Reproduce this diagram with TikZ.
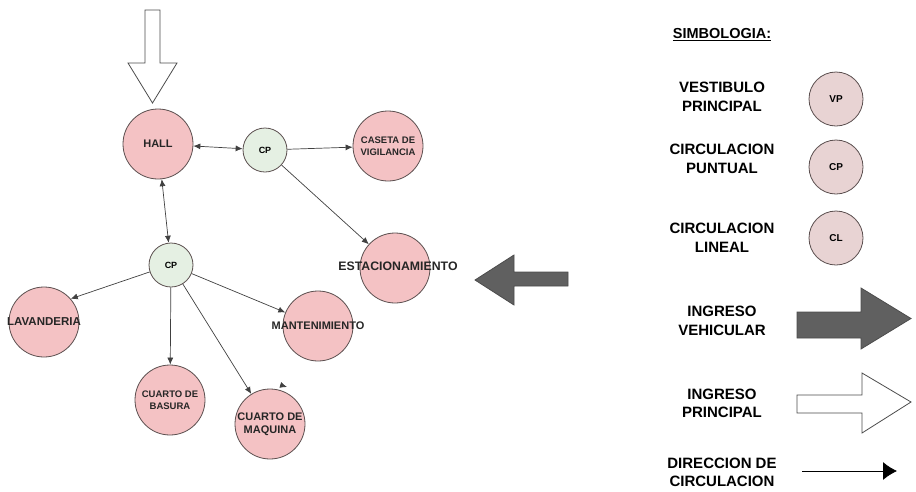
\documentclass[tikz,border=0pt]{standalone}
\usepackage{fontspec}
\setmainfont{Liberation Sans}
\usetikzlibrary{arrows.meta}
\definecolor{roompink}{HTML}{F4C2C4}
\definecolor{cpgreen}{HTML}{E5F0E3}
\definecolor{keymauve}{HTML}{E8D3D3}
\definecolor{rimgray}{HTML}{5A4E4E}
\definecolor{cardark}{HTML}{606060}

\begin{document}
\begin{tikzpicture}[
  x=1pt, y=-1pt,
  room/.style={circle, draw=rimgray, line width=0.8pt, fill=roompink, minimum size=70pt, inner sep=0pt},
  hub/.style={room, fill=cpgreen, minimum size=44pt, font=\fontsize{9}{10}\selectfont\bfseries},
  tag/.style={align=center, font=\fontsize{11}{13}\selectfont\bfseries, text=black!85},
  tagsmall/.style={tag, font=\fontsize{9.5}{12}\selectfont\bfseries},
  link/.style={draw=black!75, line width=0.7pt, -{Latex[length=7pt,width=6pt]}},
  both/.style={link, {Latex[length=7pt,width=6pt]}-{Latex[length=7pt,width=6pt]}},
  key/.style={align=center, font=\fontsize{15}{18.5}\selectfont\bfseries},
  keyring/.style={circle, draw=rimgray, line width=0.8pt, fill=keymauve, minimum size=54pt, inner sep=0pt, font=\fontsize{10}{11}\selectfont\bfseries},
  block/.style={draw=black!70, line width=0.8pt, line join=miter}
]
  \useasboundingbox (0,0) rectangle (916,491);

  % ingreso principal
  \draw[block, fill=white] (145,10) -- (160,10) -- (160,63) -- (177,63) -- (152.5,103) -- (128,63) -- (145,63) -- cycle;
  % ingreso vehicular
  \draw[block, fill=cardark] (568,272) -- (514,272) -- (514,255) -- (475,280) -- (514,305) -- (514,286) -- (568,286) -- cycle;

  \node[room, label={[tag]center:HALL}] (hall) at (158,144) {};
  \node[hub] (cpa) at (265,150) {CP};
  \node[room, label={[tagsmall]center:CASETA DE\\VIGILANCIA}] (caseta) at (388,146) {};
  \node[room, label={[tag, font=\fontsize{12.3}{14}\selectfont\bfseries, xshift=3pt, yshift=2pt]center:ESTACIONAMIENTO}] (estac) at (395,268) {};
  \node[hub] (cpb) at (171,265) {CP};
  \node[room, label={[tag, font=\fontsize{11.5}{13}\selectfont\bfseries]center:LAVANDERIA}] (lav) at (44,322) {};
  \node[room, label={[tagsmall]center:CUARTO DE\\BASURA}] (basura) at (170,400) {};
  \node[room, label={[tag]center:CUARTO DE\\MAQUINA}] (maquina) at (270,424) {};
  \node[room, label={[tag]center:MANTENIMIENTO}] (mant) at (318,326) {};

  \draw[both] (hall) -- (cpa);
  \draw[both] (hall) -- (cpb);
  \draw[link] (cpa) -- (caseta);
  \draw[link] (cpa) -- (estac);
  \draw[link] (cpb.198) -- (lav.41);
  \draw[link] (cpb) -- (basura);
  \draw[link] (cpb) -- (maquina);
  \draw[link] (cpb) -- (mant);
  \coordinate (stub) at (280.5,385);
  \coordinate (stubend) at (287,387);
  \draw[link] (stub) -- (stubend);

  % simbologia
  \node[key, font=\fontsize{14.5}{16}\selectfont\bfseries] (simb) at (722,35) {\underline{SIMBOLOGIA:}};
  \node[keyring] (vp) at (836,99) {VP};
  \node[key] (vptxt) at (722,97) {VESTIBULO\\PRINCIPAL};
  \node[keyring] (cpk) at (836,167) {CP};
  \node[key] (cptxt) at (722,159) {CIRCULACION\\PUNTUAL};
  \node[keyring] (clk) at (836,238) {CL};
  \node[key] (cltxt) at (722,238) {CIRCULACION\\LINEAL};
  \node[key] (vehtxt) at (722,321) {INGRESO\\VEHICULAR};
  \draw[block, fill=cardark] (797,312) -- (861,312) -- (861,288) -- (911,318.5) -- (861,349) -- (861,338) -- (797,338) -- cycle;
  \node[key] (prtxt) at (722,403.5) {INGRESO\\PRINCIPAL};
  \draw[block, fill=white] (797,395) -- (862,395) -- (862,373) -- (911,402) -- (862,433) -- (862,413) -- (797,413) -- cycle;
  \node[key] (dirtxt) at (722,472.5) {DIRECCION DE\\CIRCULACION};
  \coordinate (dirfrom) at (802,471);
  \coordinate (dirto) at (897,471);
  \draw[line width=0.8pt, -{Latex[length=14pt,width=18pt]}] (dirfrom) -- (dirto);
\end{tikzpicture}
\end{document}
